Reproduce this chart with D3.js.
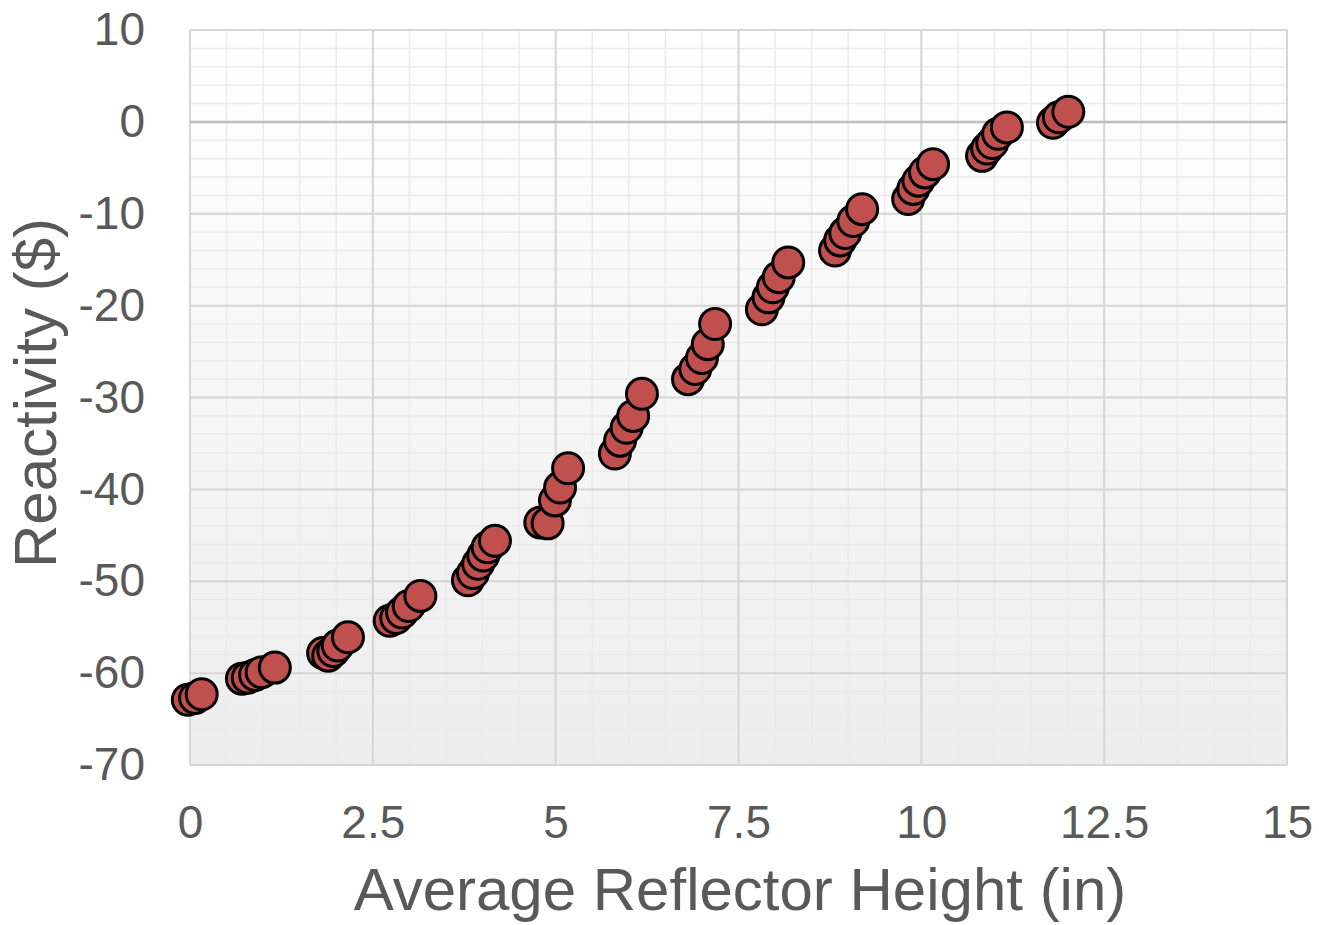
<!DOCTYPE html>
<html>
<head>
<meta charset="utf-8">
<script src="https://cdn.jsdelivr.net/npm/d3@7"></script>
<style>
  html, body { margin: 0; padding: 0; background: #ffffff; }
  svg { display: block; }
  text { font-family: "Liberation Sans", Arial, sans-serif; fill: #595959; }
</style>
</head>
<body>
<svg id="chart" width="1319" height="925"></svg>
<script>
// Average reflector height (in) for each measurement
const heights = [
  -0.03, 0.07, 0.16,
  0.71, 0.79, 0.89, 0.98, 1.16,
  1.82, 1.89, 1.96, 2.02, 2.16,
  2.73, 2.82, 2.90, 2.99, 3.15,
  3.80, 3.87, 3.94, 4.01, 4.07, 4.17,
  4.79, 4.89, 4.99, 5.06, 5.17,
  5.81, 5.88, 5.97, 6.06, 6.18,
  6.81, 6.91, 7.00, 7.08, 7.18,
  7.82, 7.91, 7.97, 8.05, 8.18,
  8.82, 8.89, 8.96, 9.07, 9.19,
  9.82, 9.89, 9.96, 10.05, 10.16,
  10.83, 10.90, 10.97, 11.05, 11.17,
  11.80, 11.88, 12.01
];
// Measured reactivity ($)
const reactivity = [
  -62.9, -62.7, -62.3,
  -60.6, -60.5, -60.2, -59.9, -59.4,
  -57.8, -58.1, -57.6, -57.0, -56.1,
  -54.3, -54.0, -53.4, -52.7, -51.6,
  -49.9, -49.1, -48.1, -47.2, -46.3, -45.6,
  -43.6, -43.7, -41.2, -39.8, -37.7,
  -36.1, -34.7, -33.3, -32.0, -29.6,
  -28.0, -26.9, -25.7, -24.2, -22.0,
  -20.4, -19.1, -18.0, -16.9, -15.3,
  -14.0, -12.9, -12.1, -10.8, -9.5,
  -8.4, -7.3, -6.4, -5.5, -4.6,
  -3.7, -2.9, -2.3, -1.3, -0.6,
  -0.1, 0.5, 1.1
];
const xTicks = [0, 2.5, 5, 7.5, 10, 12.5, 15];
const xTickLabels = ["0", "2.5", "5", "7.5", "10", "12.5", "15"];
const yTicks = [10, 0, -10, -20, -30, -40, -50, -60, -70];
const yTickLabels = ["10", "0", "-10", "-20", "-30", "-40", "-50", "-60", "-70"];
const xMinorTicks = d3.range(0, 15.001, 0.5);
const yMinorTicks = d3.range(-70, 10.001, 2);

const svg = d3.select("#chart");
const plotL = 190, plotR = 1287, plotT = 30, plotB = 765;

const x = d3.scaleLinear().domain([0, 15]).range([plotL, plotR]);
const y = d3.scaleLinear().domain([-70, 10]).range([plotB, plotT]);

// background gradient of the plot area
const defs = svg.append("defs");
const grad = defs.append("linearGradient")
  .attr("id", "plotBg").attr("x1", 0).attr("y1", 0).attr("x2", 0).attr("y2", 1);
grad.append("stop").attr("offset", "0%").attr("stop-color", "#ffffff");
grad.append("stop").attr("offset", "100%").attr("stop-color", "#ededed");

svg.append("rect")
  .attr("x", plotL).attr("y", plotT)
  .attr("width", plotR - plotL).attr("height", plotB - plotT)
  .attr("fill", "url(#plotBg)");

// minor gridlines
const grid = svg.append("g");
grid.selectAll(".xminor").data(xMinorTicks).join("line")
  .attr("x1", d => x(d)).attr("x2", d => x(d))
  .attr("y1", plotT).attr("y2", plotB)
  .attr("stroke", "#ebebeb").attr("stroke-width", 1.5);
grid.selectAll(".yminor").data(yMinorTicks).join("line")
  .attr("y1", d => y(d)).attr("y2", d => y(d))
  .attr("x1", plotL).attr("x2", plotR)
  .attr("stroke", "#ebebeb").attr("stroke-width", 1.5);

// major gridlines
grid.selectAll(".xmajor").data(xTicks).join("line")
  .attr("x1", d => x(d)).attr("x2", d => x(d))
  .attr("y1", plotT).attr("y2", plotB)
  .attr("stroke", "#d6d6d6").attr("stroke-width", 2);
grid.selectAll(".ymajor").data(yTicks).join("line")
  .attr("y1", d => y(d)).attr("y2", d => y(d))
  .attr("x1", plotL).attr("x2", plotR)
  .attr("stroke", d => d === 0 ? "#bdbdbd" : "#d6d6d6")
  .attr("stroke-width", d => d === 0 ? 2.5 : 2);

const tickFont = "'Liberation Sans', Arial, sans-serif";

// tick labels via d3 axes
const xAxis = d3.axisBottom(x).tickValues(xTicks)
  .tickFormat((d, i) => xTickLabels[i]).tickSize(0).tickPadding(40);
const gx = svg.append("g").attr("transform", `translate(0,${plotB})`).call(xAxis);
gx.select(".domain").remove();
gx.selectAll("text").style("font-size", "46px").style("font-family", tickFont)
  .attr("fill", "#595959").attr("dy", "0.71em");

const yAxis = d3.axisLeft(y).tickValues(yTicks)
  .tickFormat((d, i) => yTickLabels[i]).tickSize(0).tickPadding(45);
const gy = svg.append("g").attr("transform", `translate(${plotL},0)`).call(yAxis);
gy.select(".domain").remove();
gy.selectAll("text").style("font-size", "46px").style("font-family", tickFont)
  .attr("fill", "#595959");

// axis titles
svg.append("text")
  .attr("x", 740).attr("y", 910)
  .attr("text-anchor", "middle")
  .style("font-size", "60px")
  .text("Average Reflector Height (in)");

svg.append("text")
  .attr("transform", `translate(56,393) rotate(-90)`)
  .attr("text-anchor", "middle")
  .style("font-size", "60px")
  .text("Reactivity ($)");

// data points
const pts = heights.map((h, i) => ({ h, r: reactivity[i] }));
svg.append("g").selectAll("circle").data(pts).join("circle")
  .attr("cx", d => x(d.h)).attr("cy", d => y(d.r))
  .attr("r", 15.5)
  .attr("fill", "#c0504d")
  .attr("stroke", "#000000")
  .attr("stroke-width", 3);
</script>
</body>
</html>
